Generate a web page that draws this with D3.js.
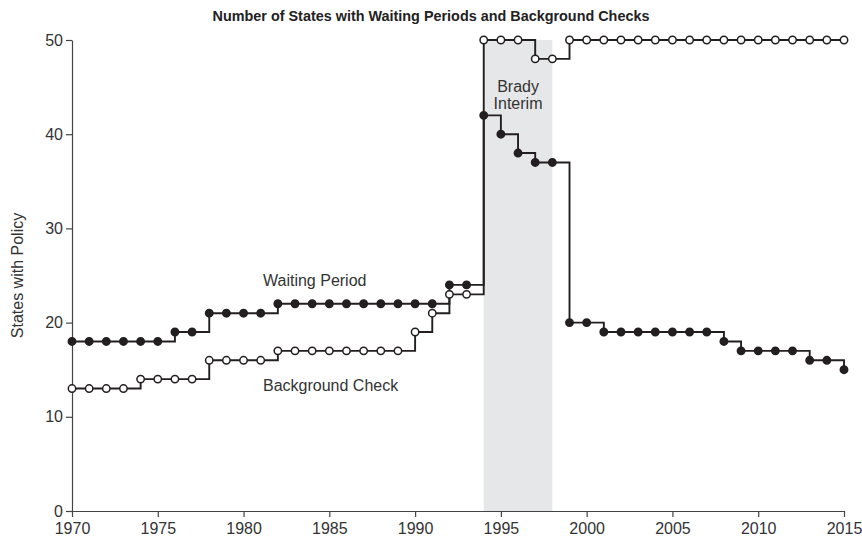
<!DOCTYPE html>
<html>
<head>
<meta charset="utf-8">
<script src="https://cdn.jsdelivr.net/npm/d3@7"></script>
<style>
  body { margin: 0; background: #fff; }
  svg { display: block; font-family: "Liberation Sans", Arial, sans-serif; }
</style>
</head>
<body>
<svg width="862" height="542"></svg>
<script>
// Data
var years = d3.range(1970, 2016);
var waitingPeriod = [18, 18, 18, 18, 18, 18, 19, 19, 21, 21, 21, 21, 22, 22, 22, 22,
  22, 22, 22, 22, 22, 22, 24, 24, 42, 40, 38, 37, 37, 20, 20, 19, 19, 19, 19, 19,
  19, 19, 18, 17, 17, 17, 17, 16, 16, 15];
var backgroundCheck = [13, 13, 13, 13, 14, 14, 14, 14, 16, 16, 16, 16, 17, 17, 17, 17,
  17, 17, 17, 17, 19, 21, 23, 23, 50, 50, 50, 48, 48, 50, 50, 50, 50, 50, 50, 50,
  50, 50, 50, 50, 50, 50, 50, 50, 50, 50];
var bradyInterim = [1994, 1998];
var xTicks = [1970, 1975, 1980, 1985, 1990, 1995, 2000, 2005, 2010, 2015];
var yTicks = [0, 10, 20, 30, 40, 50];

var ink = "#231f20";

// The svg
var svg = d3.select("svg");

var x = d3.scaleLinear().domain([1970, 2015]).range([72, 844]);
var y = d3.scaleLinear().domain([0, 50]).range([511, 40]);

// Brady interim band
svg.append("rect")
  .attr("x", x(bradyInterim[0]))
  .attr("y", y(50))
  .attr("width", x(bradyInterim[1]) - x(bradyInterim[0]))
  .attr("height", y(0) - y(50))
  .attr("fill", "#e6e7e9");

svg.append("text")
  .attr("x", (x(bradyInterim[0]) + x(bradyInterim[1])) / 2)
  .attr("y", 92)
  .attr("text-anchor", "middle")
  .attr("font-size", 16)
  .attr("fill", "#333")
  .text("Brady");
svg.append("text")
  .attr("x", (x(bradyInterim[0]) + x(bradyInterim[1])) / 2)
  .attr("y", 109)
  .attr("text-anchor", "middle")
  .attr("font-size", 16)
  .attr("fill", "#333")
  .text("Interim");

// Axes
var xAxis = svg.append("g")
  .attr("transform", "translate(0," + y(0) + ")")
  .call(d3.axisBottom(x).tickValues(xTicks).tickFormat(d3.format("d")).tickSize(6).tickSizeOuter(0));
var yAxis = svg.append("g")
  .attr("transform", "translate(" + x(1970) + ",0)")
  .call(d3.axisLeft(y).tickValues(yTicks).tickSize(6).tickSizeOuter(0));

[xAxis, yAxis].forEach(function (g) {
  g.selectAll("path, line").attr("stroke", "#444").attr("stroke-width", 1.2);
  g.selectAll("text").attr("font-size", 16).attr("fill", "#333")
    .attr("font-family", "Liberation Sans, Arial, sans-serif");
});
xAxis.selectAll("text").attr("dy", "0.85em");

svg.append("text")
  .attr("transform", "translate(23," + (y(0) + y(50)) / 2 + ") rotate(-90)")
  .attr("text-anchor", "middle")
  .attr("font-size", 16)
  .attr("fill", "#333")
  .text("States with Policy");

// Title
svg.append("text")
  .attr("x", 431)
  .attr("y", 21)
  .attr("text-anchor", "middle")
  .attr("font-size", 14.4)
  .attr("font-weight", "bold")
  .attr("fill", "#222")
  .text("Number of States with Waiting Periods and Background Checks");

// Step lines
var line = d3.line()
  .x(function (d) { return x(d[0]); })
  .y(function (d) { return y(d[1]); })
  .curve(d3.curveStepAfter);

var series = [
  { values: waitingPeriod, fill: ink },
  { values: backgroundCheck, fill: "#fff" }
];

series.forEach(function (s) {
  var pts = years.map(function (yr, i) { return [yr, s.values[i]]; });
  svg.append("path")
    .attr("d", line(pts))
    .attr("fill", "none")
    .attr("stroke", ink)
    .attr("stroke-width", 1.9);
});

series.forEach(function (s) {
  var pts = years.map(function (yr, i) { return [yr, s.values[i]]; });
  svg.append("g")
    .selectAll("circle")
    .data(pts)
    .enter()
    .append("circle")
    .attr("cx", function (d) { return x(d[0]); })
    .attr("cy", function (d) { return y(d[1]); })
    .attr("r", 3.7)
    .attr("fill", s.fill)
    .attr("stroke", ink)
    .attr("stroke-width", 1.5);
});

// Series labels
svg.append("text")
  .attr("x", 263)
  .attr("y", 286)
  .attr("font-size", 16)
  .attr("fill", "#333")
  .text("Waiting Period");
svg.append("text")
  .attr("x", 263)
  .attr("y", 391)
  .attr("font-size", 16)
  .attr("fill", "#333")
  .text("Background Check");
</script>
</body>
</html>
